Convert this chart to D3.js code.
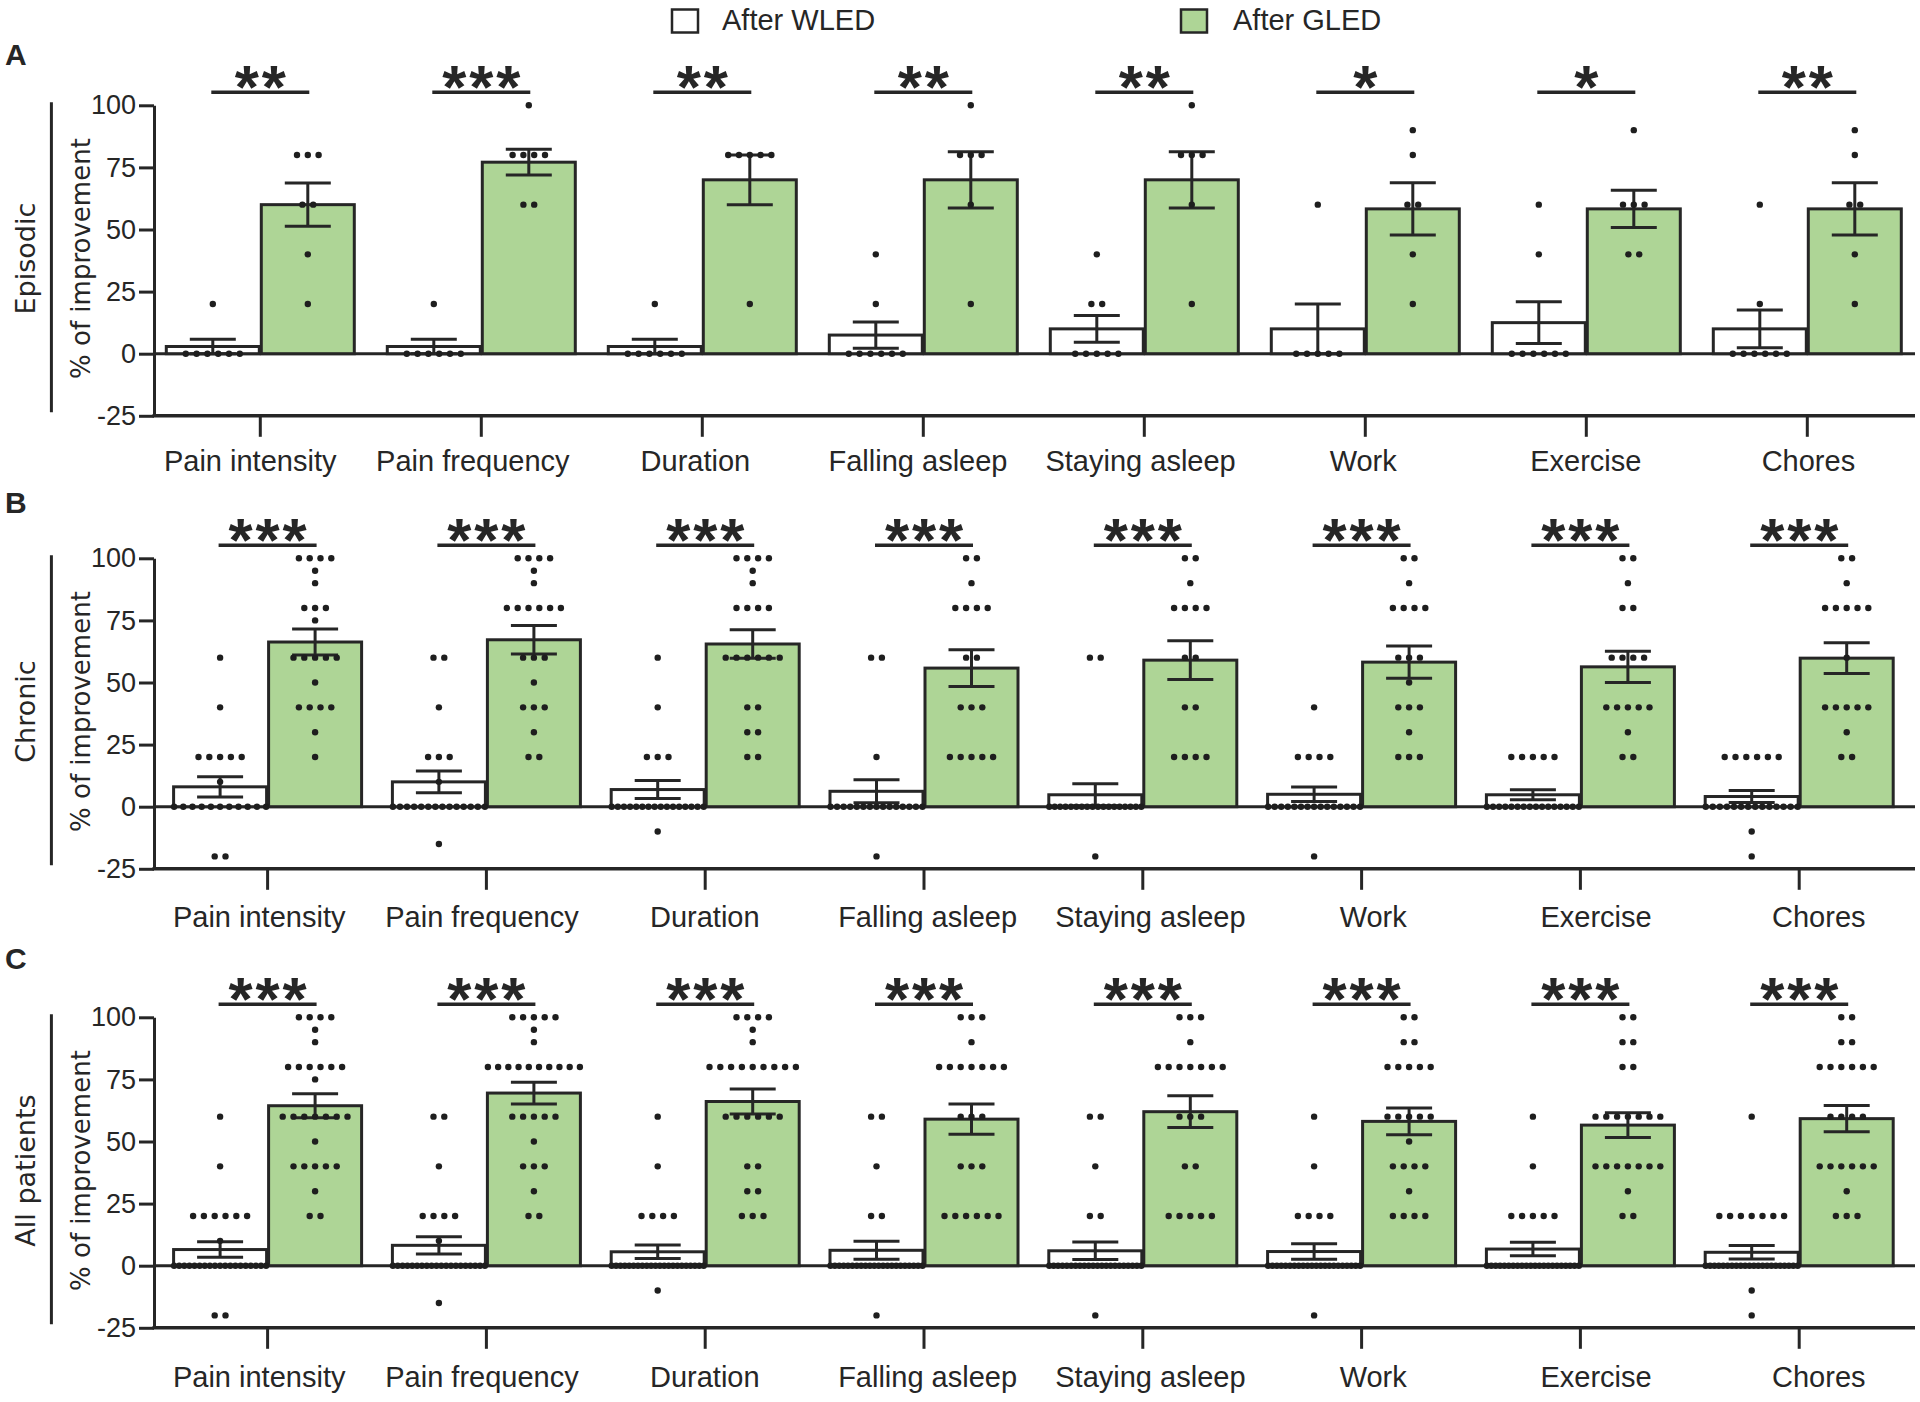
<!DOCTYPE html>
<html><head><meta charset="utf-8">
<script src="https://cdn.jsdelivr.net/npm/d3@7"></script>
<style>
body{margin:0;background:#fff;}
svg{display:block;}
</style>
</head><body>
<svg id="chart" width="1920" height="1402"></svg>
<script>
// ---------------- DATA ----------------
const categories = ["Pain intensity","Pain frequency","Duration","Falling asleep","Staying asleep","Work","Exercise","Chores"];
const seriesNames = ["After WLED","After GLED"];
const panelLetters = ["A","B","C"];
const panelTitles = ["Episodic","Chronic","All patients"];
const yAxisTitle = "% of improvement";
const yTickValues = [-25,0,25,50,75,100];

const episodicSignif = ["**","***","**","**","**","*","*","**"];
const chronicSignif  = ["***","***","***","***","***","***","***","***"];
const allSignif      = ["***","***","***","***","***","***","***","***"];

const episodicWLEDMean = [2.9, 2.9, 2.9, 7.5, 10, 10, 12.5, 10];
const episodicWLEDSem  = [2.9, 2.9, 2.9, 5.3, 5.4, 10, 8.4, 7.6];
const episodicGLEDMean = [60, 77.1, 70, 70, 70, 58.3, 58.3, 58.3];
const episodicGLEDSem  = [8.7, 5.2, 10, 11.3, 11.3, 10.5, 7.5, 10.5];

const chronicWLEDMean = [8.0, 10.0, 6.9, 6.2, 4.8, 5.0, 4.8, 4.1];
const chronicWLEDSem  = [4.1, 4.4, 3.6, 4.6, 4.4, 2.9, 2.0, 2.4];
const chronicGLEDMean = [66.3, 67.2, 65.5, 55.8, 59.0, 58.2, 56.3, 59.8];
const chronicGLEDSem  = [5.2, 5.7, 5.7, 7.4, 7.8, 6.5, 6.3, 6.2];

const allWLEDMean = [6.5, 8.2, 5.6, 6.2, 6.0, 5.7, 6.7, 5.4];
const allWLEDSem  = [3.1, 3.5, 2.7, 3.6, 3.5, 3.1, 2.7, 2.7];
const allGLEDMean = [64.4, 69.5, 66.1, 59.0, 62.0, 58.1, 56.6, 59.2];
const allGLEDSem  = [4.8, 4.4, 5.0, 6.1, 6.4, 5.4, 5.0, 5.3];

// individual patients: [value, number of patients]
const episodicWLEDDots = [
  [[0,6],[20,1]], [[0,6],[20,1]], [[0,6],[20,1]], [[0,6],[20,1],[40,1]],
  [[0,5],[20,2],[40,1]], [[0,5],[60,1]], [[0,6],[40,1],[60,1]], [[0,6],[20,1],[60,1]]
];
const episodicGLEDDots = [
  [[20,1],[40,1],[60,2],[80,3]], [[60,2],[80,4],[100,1]], [[20,1],[80,5]], [[20,1],[60,1],[80,3],[100,1]],
  [[20,1],[60,1],[80,3],[100,1]], [[20,1],[40,1],[60,2],[80,1],[90,1]], [[40,2],[60,3],[90,1]], [[20,1],[40,1],[60,2],[80,1],[90,1]]
];
const chronicWLEDDots = [
  [[-20,2],[0,11],[10,1],[20,5],[40,1],[60,1]],
  [[-15,1],[0,14],[10,1],[20,3],[40,1],[60,2]],
  [[-10,1],[0,16],[20,3],[40,1],[60,1]],
  [[-20,1],[0,15],[20,1],[60,2]],
  [[-20,1],[0,18],[60,2]],
  [[-20,1],[0,15],[20,4],[40,1]],
  [[0,16],[20,5]],
  [[-20,1],[-10,1],[0,14],[20,6]]
];
const chronicGLEDDots = [
  [[20,1],[30,1],[40,4],[50,1],[60,5],[75,1],[80,3],[90,1],[95,1],[100,4]],
  [[20,2],[30,1],[40,3],[50,1],[60,3],[80,6],[90,1],[95,1],[100,4]],
  [[20,2],[30,2],[40,2],[60,6],[80,4],[90,1],[95,1],[100,4]],
  [[20,5],[40,3],[60,2],[80,4],[90,1],[100,2]],
  [[20,4],[40,2],[60,2],[80,4],[90,1],[100,2]],
  [[20,3],[30,1],[40,3],[50,1],[60,3],[80,4],[90,1],[100,2]],
  [[20,2],[30,1],[40,5],[60,4],[80,2],[90,1],[100,2]],
  [[20,2],[30,1],[40,5],[60,1],[80,5],[90,1],[100,2]]
];
const allWLEDDots = [
  [[-20,2],[0,19],[10,1],[20,6],[40,1],[60,1]],
  [[-15,1],[0,20],[10,1],[20,4],[40,1],[60,2]],
  [[-10,1],[0,22],[20,4],[40,1],[60,1]],
  [[-20,1],[0,22],[20,2],[40,1],[60,2]],
  [[-20,1],[0,22],[20,2],[40,1],[60,2]],
  [[-20,1],[0,22],[20,4],[40,1],[60,1]],
  [[0,22],[20,5],[40,1],[60,1]],
  [[-20,1],[-10,1],[0,22],[20,7],[60,1]]
];
const allGLEDDots = [
  [[20,2],[30,1],[40,5],[50,1],[60,7],[75,1],[80,6],[90,1],[95,1],[100,4]],
  [[20,2],[30,1],[40,3],[50,1],[60,5],[80,10],[90,1],[95,1],[100,5]],
  [[20,3],[30,2],[40,2],[60,6],[80,9],[90,1],[95,1],[100,4]],
  [[20,6],[40,3],[60,3],[80,7],[90,1],[100,3]],
  [[20,5],[40,2],[60,3],[80,7],[90,1],[100,3]],
  [[20,4],[30,1],[40,4],[50,1],[60,5],[80,5],[90,2],[100,2]],
  [[20,2],[30,1],[40,7],[60,7],[80,2],[90,2],[100,2]],
  [[20,3],[30,1],[40,6],[60,4],[80,6],[90,2],[100,2]]
];

// ---------------- LAYOUT / STYLE ----------------
const INK = "#262626";
const GREEN = "#aed596";
const SANS = "'Liberation Sans', Arial, sans-serif";
const WIDE = "'DejaVu Sans', Verdana, sans-serif";
const PLOT_H = 310.5;
const AXIS_X0 = 154, AXIS_X1 = 1915;
const BAR_W = 93;

const panels = [
  {letter:panelLetters[0], title:panelTitles[0], top:105.3, letterY:65, labOff:55,
   band:[149.8,1917.8], lab:[249.7,1807.9], sig:episodicSignif,
   wMean:episodicWLEDMean, wSem:episodicWLEDSem, gMean:episodicGLEDMean, gSem:episodicGLEDSem,
   wDots:episodicWLEDDots, gDots:episodicGLEDDots},
  {letter:panelLetters[1], title:panelTitles[1], top:558.3, letterY:513, labOff:58.5,
   band:[158.2,1908.6], lab:[258.7,1818.3], sig:chronicSignif,
   wMean:chronicWLEDMean, wSem:chronicWLEDSem, gMean:chronicGLEDMean, gSem:chronicGLEDSem,
   wDots:chronicWLEDDots, gDots:chronicGLEDDots},
  {letter:panelLetters[2], title:panelTitles[2], top:1017.3, letterY:969, labOff:59,
   band:[158.2,1908.6], lab:[258.7,1818.3], sig:allSignif,
   wMean:allWLEDMean, wSem:allWLEDSem, gMean:allGLEDMean, gSem:allGLEDSem,
   wDots:allWLEDDots, gDots:allGLEDDots}
];

const svg = d3.select("#chart");

// legend
const legend = [
  {name:seriesNames[0], fill:"#ffffff", bx:672, tx:722},
  {name:seriesNames[1], fill:GREEN, bx:1181, tx:1233}
];
legend.forEach(l => {
  svg.append("rect").attr("x", l.bx).attr("y", 9.5).attr("width", 26).attr("height", 23)
    .attr("fill", l.fill).attr("stroke", INK).attr("stroke-width", 2.5);
  svg.append("text").attr("x", l.tx).attr("y", 30).attr("fill", INK)
    .style("font-family", SANS).style("font-size", "29px").text(l.name);
});

function spread(k) {
  const s = k > 1 ? Math.min(10.8, 92 / (k - 1)) : 0;
  return d3.range(k).map(j => (j - (k - 1) / 2) * s);
}

panels.forEach(p => {
  const g = svg.append("g");
  const y = d3.scaleLinear().domain([-25, 100]).range([p.top + PLOT_H, p.top]);
  const x = d3.scaleBand().domain(categories).range(p.band);
  const xl = d3.scalePoint().domain(categories).range(p.lab);
  const cx = c => x(c) + x.bandwidth() / 2;
  const midY = p.top + PLOT_H / 2 - 2;

  // left bracket line and titles
  g.append("line").attr("x1", 51.4).attr("x2", 51.4).attr("y1", p.top - 3).attr("y2", p.top + 307)
    .attr("stroke", INK).attr("stroke-width", 3);
  g.append("text").attr("transform", `translate(35,${midY}) rotate(-90)`).attr("text-anchor", "middle")
    .attr("fill", INK).style("font-family", WIDE).style("font-size", "27px").text(p.title);
  g.append("text").attr("transform", `translate(90,${midY}) rotate(-90)`).attr("text-anchor", "middle")
    .attr("fill", INK).style("font-family", WIDE).style("font-size", "26px").text(yAxisTitle);
  g.append("text").attr("x", 5).attr("y", p.letterY).attr("fill", INK)
    .style("font-family", SANS).style("font-weight", "bold").style("font-size", "30px").text(p.letter);

  // zero baseline
  g.append("line").attr("x1", AXIS_X0).attr("x2", AXIS_X1).attr("y1", y(0)).attr("y2", y(0))
    .attr("stroke", INK).attr("stroke-width", 3);

  // bars
  g.selectAll("rect.w").data(categories).join("rect").attr("class", "w")
    .attr("x", c => cx(c) - BAR_W - 1).attr("width", BAR_W)
    .attr("y", (c, i) => y(p.wMean[i])).attr("height", (c, i) => y(0) - y(p.wMean[i]))
    .attr("fill", "#fff").attr("stroke", INK).attr("stroke-width", 3);
  g.selectAll("rect.g").data(categories).join("rect").attr("class", "g")
    .attr("x", c => cx(c) + 1).attr("width", BAR_W)
    .attr("y", (c, i) => y(p.gMean[i])).attr("height", (c, i) => y(0) - y(p.gMean[i]))
    .attr("fill", GREEN).attr("stroke", INK).attr("stroke-width", 3);

  // error bars
  const errs = [];
  categories.forEach((c, i) => {
    errs.push({x: cx(c) - BAR_W / 2 - 1, m: p.wMean[i], s: p.wSem[i]});
    errs.push({x: cx(c) + BAR_W / 2 + 1, m: p.gMean[i], s: p.gSem[i]});
  });
  const eg = g.selectAll("g.err").data(errs).join("g").attr("class", "err")
    .attr("stroke", INK).attr("stroke-width", 3);
  eg.append("line").attr("x1", d => d.x).attr("x2", d => d.x)
    .attr("y1", d => y(d.m - d.s)).attr("y2", d => y(d.m + d.s));
  eg.append("line").attr("x1", d => d.x - 23).attr("x2", d => d.x + 23)
    .attr("y1", d => y(d.m + d.s)).attr("y2", d => y(d.m + d.s));
  eg.append("line").attr("x1", d => d.x - 23).attr("x2", d => d.x + 23)
    .attr("y1", d => y(d.m - d.s)).attr("y2", d => y(d.m - d.s));

  // dots
  const dots = [];
  categories.forEach((c, i) => {
    [[p.wDots[i], cx(c) - BAR_W / 2 - 1], [p.gDots[i], cx(c) + BAR_W / 2 + 1]].forEach(([rows, bx]) => {
      rows.forEach(([v, k]) => spread(k).forEach(o => dots.push({x: bx + o, v})));
    });
  });
  g.selectAll("circle.dot").data(dots).join("circle").attr("class", "dot")
    .attr("cx", d => d.x).attr("cy", d => y(d.v)).attr("r", 3.2).attr("fill", "#1e1e1e");

  // y axis
  const ya = g.append("g").attr("transform", `translate(${AXIS_X0},0)`)
    .call(d3.axisLeft(y).tickValues(yTickValues).tickSize(15).tickSizeOuter(0).tickPadding(3).tickFormat(d => String(d)));
  ya.select(".domain").attr("stroke", INK).attr("stroke-width", 3);
  ya.selectAll(".tick line").attr("stroke", INK).attr("stroke-width", 3);
  ya.selectAll(".tick text").attr("fill", INK).style("font-family", SANS).style("font-size", "27px");

  // x axis line
  g.append("line").attr("x1", AXIS_X0 - 1.5).attr("x2", AXIS_X1).attr("y1", y(-25)).attr("y2", y(-25))
    .attr("stroke", INK).attr("stroke-width", 3.5);
  // category ticks
  const xa = g.append("g").attr("transform", `translate(0,${y(-25)})`)
    .call(d3.axisBottom(x).tickSize(21).tickFormat(""));
  xa.select(".domain").remove();
  xa.selectAll(".tick line").attr("stroke", INK).attr("stroke-width", 3);
  // category labels
  const xla = g.append("g").attr("transform", `translate(0,${y(-25)})`)
    .call(d3.axisBottom(xl).tickSize(0).tickPadding(p.labOff - 20.6));
  xla.select(".domain").remove();
  xla.selectAll(".tick text").attr("fill", INK).style("font-family", SANS).style("font-size", "29px");

  // significance
  const sigY = p.top - 13;
  g.selectAll("line.sig").data(categories).join("line").attr("class", "sig")
    .attr("x1", c => cx(c) - 49).attr("x2", c => cx(c) + 49).attr("y1", sigY).attr("y2", sigY)
    .attr("stroke", INK).attr("stroke-width", 3.5);
  const stars = [];
  categories.forEach((c, i) => {
    const k = p.sig[i].length;
    d3.range(k).forEach(j => stars.push({x: cx(c) + (j - (k - 1) / 2) * 27}));
  });
  g.selectAll("text.star").data(stars).join("text").attr("class", "star")
    .attr("x", d => d.x).attr("y", sigY + 16).attr("text-anchor", "middle")
    .attr("fill", INK).style("font-family", SANS).style("font-weight", "bold").style("font-size", "62px").text("*");
});
</script>
</body></html>
